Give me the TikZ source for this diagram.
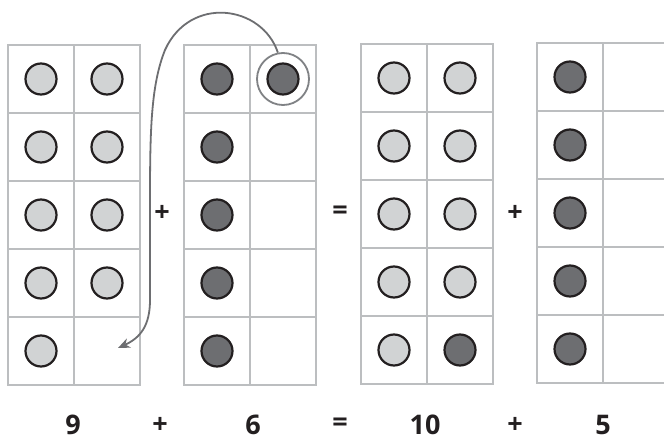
\documentclass[tikz,border=0pt]{standalone}
\usepackage{fontspec}
\setmainfont{Open Sans}
\usetikzlibrary{arrows.meta}
\definecolor{gridc}{HTML}{BCBEC0}
\definecolor{lightdot}{HTML}{D1D3D4}
\definecolor{darkdot}{HTML}{6D6E71}
\definecolor{dotline}{HTML}{231F20}
\definecolor{arrowc}{HTML}{6D6E71}
\definecolor{ringc}{HTML}{808285}
\tikzset{
  gridline/.style={draw=gridc, line width=2.4pt},
  ldot/.style={circle, draw=dotline, fill=lightdot, line width=2.2pt, minimum size=31pt, inner sep=0pt},
  ddot/.style={circle, draw=dotline, fill=darkdot, line width=2.2pt, minimum size=31pt, inner sep=0pt},
  ringstyle/.style={circle, draw=ringc, line width=1.8pt, minimum size=52pt, inner sep=0pt},
  sym/.style={font=\fontsize{27}{30}\selectfont\bfseries, text=dotline, inner sep=0pt},
  num/.style={font=\fontsize{27}{30}\selectfont\bfseries, text=dotline, inner sep=0pt},
  movearrow/.style={draw=arrowc, line width=1.8pt, -{Stealth[length=12pt,width=10pt]}}
}
\newcommand{\tenframe}[3]{%
  % #1 left x, #2 top y, #3 name
  \draw[gridline] (#1,#2) rectangle ++(132,340);
  \draw[gridline] (#1+66,#2) -- ++(0,340);
  \foreach \r in {1,2,3,4} {\draw[gridline] (#1,#2+68*\r) -- ++(132,0);}
}
\begin{document}
\begin{tikzpicture}[x=1pt,y=-1pt]
\useasboundingbox (0,0) rectangle (664,441);
\clip (0,0) rectangle (664,441);
\fill[white] (0,0) rectangle (664,441);
% frames
\tenframe{8}{45}{fa}
\tenframe{184}{45}{fb}
\tenframe{361}{44}{fc}
\tenframe{537}{43}{fd}
% frame 1: nine light dots
\foreach \r in {0,1,2,3} {
  \node[ldot] (a1\r) at (41,79+68*\r) {};
  \node[ldot] (a2\r) at (107,79+68*\r) {};
}
\node[ldot] (a14) at (41,351) {};
% frame 2: six dark dots
\foreach \r in {0,1,2,3,4} {
  \node[ddot] (b1\r) at (217,79+68*\r) {};
}
\node[ddot] (b20) at (283,79) {};
\node[ringstyle] (ring) at (283,79) {};
% frame 3: ten dots
\foreach \r in {0,1,2,3,4} {
  \node[ldot] (c1\r) at (394,78+68*\r) {};
}
\foreach \r in {0,1,2,3} {
  \node[ldot] (c2\r) at (460,78+68*\r) {};
}
\node[ddot] (c24) at (460,350) {};
% frame 4: five dark dots
\foreach \r in {0,1,2,3,4} {
  \node[ddot] (d1\r) at (570,77+68*\r) {};
}
% arrow
\coordinate (tgt) at (118,348);
\draw[movearrow] (ring.101) .. controls (262,5) and (190,-5) .. (165,50)
  .. controls (151,85) and (150,130) .. (150,200) -- (150,300)
  .. controls (150,326) and (140,338) .. (tgt);
% middle symbols
\node[sym] (p1) at (162,213) {+};
\node[sym] (e1) at (340,213) {=};
\node[sym] (p2) at (515,213) {+};
% bottom equation
\node[num] (n9) at (73,425) {9};
\node[num] (bp1) at (160,425) {+};
\node[num] (n6) at (253,425) {6};
\node[num] (be) at (340,425) {=};
\node[num] (n10) at (425,425) {10};
\node[num] (bp2) at (515,425) {+};
\node[num] (n5) at (603,425) {5};
\end{tikzpicture}
\end{document}
